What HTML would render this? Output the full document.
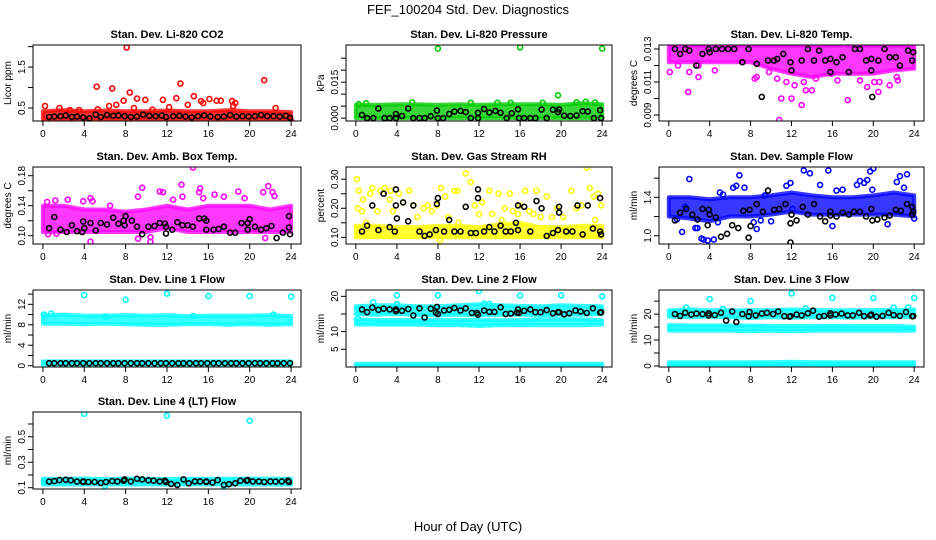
<!DOCTYPE html>
<html><head><meta charset="utf-8">
<style>
html,body{margin:0;padding:0;background:#fff;}
svg{display:block;font-family:"Liberation Sans",Arial,sans-serif;}
</style></head>
<body>
<svg id="chart" width="936" height="540" viewBox="0 0 936 540" xmlns="http://www.w3.org/2000/svg">
<text x="468" y="14" text-anchor="middle" font-size="13">FEF_100204  Std. Dev. Diagnostics</text>
<text x="468" y="531" text-anchor="middle" font-size="13">Hour of Day (UTC)</text>
</svg>
<script>
// ---------- shared ----------
const xTicks = [0,4,8,12,16,20,24];
const bandHours = [0,2,4,6,8,10,12,14,16,18,20,22,24];

// ---------- CO2 ----------
const co2BandLo = [0.22,0.22,0.22,0.22,0.22,0.22,0.22,0.22,0.22,0.22,0.22,0.22,0.22];
const co2BandHi = [0.42,0.45,0.42,0.44,0.42,0.42,0.44,0.42,0.42,0.45,0.42,0.42,0.40];
const co2Hours = [0.2,1.6,2.6,5.2,5.3,6.4,6.7,7.1,7.8,8.1,8.4,8.8,9.1,9.9,11.6,12.2,12.9,13.3,14.0,14.6,15.3,15.5,16.1,16.8,17.2,18.3,18.4,18.6,21.4,22.5,24.0,3.5,10.6];
const co2Vals = [0.55,0.50,0.45,1.02,0.47,0.55,0.98,0.58,0.68,1.98,0.88,0.50,0.73,0.70,0.70,0.52,0.74,1.10,0.58,0.79,0.67,0.62,0.72,0.68,0.68,0.67,0.55,0.62,1.18,0.50,0.18,0.45,0.46];
const co2BlkHours = [0.6,1.1,1.7,2.2,2.8,3.3,3.9,4.5,5.1,5.6,6.2,6.8,7.3,7.9,8.5,9.1,9.7,10.3,10.9,11.5,11.9,12.6,13.2,13.8,14.4,15.0,15.6,16.2,16.9,17.5,18.1,18.7,19.3,19.9,20.5,21.1,21.7,22.3,22.9,23.5,23.9];
const co2BlkVals = [0.28,0.29,0.30,0.32,0.28,0.29,0.27,0.25,0.34,0.28,0.33,0.31,0.32,0.30,0.28,0.29,0.34,0.31,0.30,0.32,0.28,0.30,0.31,0.29,0.27,0.30,0.32,0.29,0.28,0.29,0.33,0.29,0.30,0.29,0.30,0.33,0.30,0.30,0.29,0.31,0.26];

// ---------- Pressure ----------
const presBandLo = [0.0,0.0,0.0,0.0,0.0,0.0,0.0,0.0,0.0,0.0,0.0,0.0,0.0];
const presBandHi = [0.0055,0.0055,0.0058,0.0058,0.0055,0.0058,0.0055,0.0058,0.0058,0.0058,0.0055,0.0062,0.0058];
const presHours = [8.0,16.0,24.0,19.7,22.4,5.5,11.2,0.3,1.0,13.8,15.1,18.2,21.5,23.3];
const presVals = [0.029,0.0295,0.029,0.0095,0.0068,0.0065,0.0064,0.0058,0.0062,0.0064,0.0064,0.0064,0.0066,0.0065];
const presBlkHours = [0.6,1.1,1.7,2.2,2.8,3.3,3.9,3.9,4.5,5.1,5.6,6.2,6.7,7.3,7.9,8.0,8.5,9.1,9.6,10.2,10.7,11.2,11.9,11.9,12.5,13.0,13.6,14.1,14.7,15.2,15.8,15.9,16.4,17.0,17.5,18.1,18.6,19.2,19.7,19.8,20.3,20.9,21.5,22.1,22.6,23.2,23.8,23.9];
const presBlkVals = [0.0013,0.0,0.0,0.0040,0.0,0.0,0.0017,0.0,0.0009,0.0040,0.0,0.0,0.0,0.0008,0.0032,0.0,0.0,0.0017,0.0027,0.0030,0.0025,0.0,0.0022,0.0,0.0038,0.0023,0.0030,0.0022,0.0,0.0020,0.0037,0.0,0.0,0.0,0.0,0.0036,0.0,0.0035,0.0025,0.0036,0.0010,0.0009,0.0011,0.0029,0.0027,0.0,0.0033,0.0];

// ---------- Li-820 Temp ----------
const tmpBandLo = [0.0122,0.0122,0.0122,0.0122,0.0122,0.0118,0.0115,0.0113,0.0115,0.0115,0.0115,0.0117,0.0118];
const tmpBandHi = [0.0132,0.0132,0.0132,0.0132,0.0132,0.0132,0.0132,0.0132,0.0132,0.0132,0.0132,0.0132,0.0132];
const tmpHours = [0.1,0.9,1.9,2.0,2.9,2.9,4.5,8.6,9.8,10.6,10.8,11.0,12.0,12.3,13.0,13.2,13.4,14.0,15.9,16.5,17.5,18.7,19.4,20.1,20.5,20.6,21.6,22.3,22.4,8.4,11.5,14.4];
const tmpVals = [0.0116,0.0120,0.0104,0.0116,0.0120,0.0113,0.0117,0.0113,0.0116,0.0112,0.0087,0.0100,0.0100,0.0108,0.0096,0.0110,0.0105,0.0105,0.0115,0.0111,0.0099,0.0111,0.0107,0.0110,0.0104,0.0110,0.0108,0.0113,0.0111,0.0112,0.0110,0.0112];
const tmpBlkHours = [0.6,1.1,1.6,2.0,2.7,3.3,3.9,4.0,4.6,5.2,5.8,6.4,7.2,7.8,8.6,9.1,9.7,10.3,10.6,11.2,11.9,12.0,13.0,13.6,14.2,14.7,15.3,15.8,15.8,16.4,17.0,17.6,18.2,18.7,19.3,19.8,19.8,19.9,20.5,21.1,21.6,22.2,22.6,23.4,23.8,23.9];
const tmpBlkVals = [0.0130,0.0127,0.0130,0.0129,0.0120,0.0127,0.0130,0.0128,0.0130,0.0130,0.0130,0.0130,0.0122,0.0130,0.0121,0.0101,0.0123,0.0123,0.0124,0.0127,0.0122,0.0117,0.0123,0.0130,0.0123,0.0129,0.0123,0.0124,0.0116,0.0122,0.0125,0.0116,0.0130,0.0130,0.0123,0.0124,0.0117,0.0101,0.0123,0.0130,0.0125,0.0125,0.0120,0.0129,0.0123,0.0128];

// ---------- Amb Box Temp ----------
const ambBandLo = [0.105,0.105,0.105,0.105,0.105,0.105,0.110,0.105,0.105,0.105,0.105,0.105,0.105];
const ambBandHi = [0.140,0.140,0.135,0.135,0.132,0.135,0.140,0.135,0.140,0.140,0.140,0.135,0.140];
const ambHours = [0.4,1.2,2.4,3.9,4.6,4.8,4.6,9.2,9.6,9.2,10.4,10.4,11.3,11.6,12.6,13.4,13.5,14.5,15.1,15.2,15.5,16.6,17.5,18.9,21.3,21.8,22.2,22.4,21.5,0.5,1.3,6.5,19.5];
const ambVals = [0.145,0.147,0.148,0.146,0.150,0.146,0.092,0.152,0.164,0.096,0.092,0.098,0.159,0.158,0.148,0.168,0.152,0.191,0.158,0.163,0.150,0.155,0.152,0.159,0.158,0.166,0.158,0.153,0.097,0.102,0.103,0.140,0.150];
const ambBlkHours = [0.6,1.1,1.7,2.3,2.8,3.3,3.8,3.9,4.0,4.6,5.1,5.6,6.2,6.8,7.3,7.8,7.9,8.0,8.6,9.1,9.6,10.2,10.8,11.3,11.8,11.9,11.9,12.5,13.0,13.5,14.0,14.5,15.1,15.6,15.8,15.8,16.5,17.0,17.5,18.1,18.6,19.2,19.8,19.8,20.0,20.5,21.1,21.6,22.1,22.6,23.2,23.8,23.8,23.9];
const ambBlkVals = [0.110,0.125,0.108,0.105,0.114,0.106,0.105,0.119,0.110,0.117,0.107,0.117,0.115,0.124,0.116,0.120,0.114,0.126,0.120,0.112,0.102,0.112,0.113,0.117,0.116,0.112,0.103,0.108,0.118,0.114,0.114,0.112,0.123,0.123,0.120,0.108,0.108,0.109,0.112,0.104,0.104,0.117,0.117,0.108,0.122,0.112,0.108,0.110,0.113,0.097,0.104,0.126,0.111,0.102];

// ---------- Gas Stream RH ----------
const rhBandLo = [0.100,0.100,0.100,0.100,0.100,0.100,0.100,0.100,0.100,0.100,0.100,0.100,0.100];
const rhBandHi = [0.140,0.140,0.135,0.135,0.140,0.140,0.135,0.145,0.150,0.135,0.135,0.140,0.140];
const rhHours = [0.1,0.3,0.7,0.2,0.6,1.4,1.6,2.1,2.4,2.8,3.3,3.4,3.6,4.2,4.6,5.2,5.6,6.0,6.6,7.0,7.4,7.9,8.3,8.7,9.0,9.6,9.9,10.7,11.2,11.6,12.0,12.3,13.0,13.3,13.9,14.5,15.0,15.3,15.8,16.5,16.9,17.3,17.6,18.0,18.6,19.1,19.6,20.2,21.0,21.5,22.0,22.5,22.8,23.2,23.6,23.9,23.3,16.0,14.2,10.0,8.2,1.0];
const rhVals = [0.30,0.26,0.23,0.20,0.19,0.25,0.27,0.19,0.26,0.27,0.23,0.26,0.19,0.25,0.22,0.26,0.21,0.17,0.20,0.21,0.19,0.21,0.27,0.24,0.17,0.26,0.26,0.32,0.29,0.21,0.18,0.22,0.26,0.18,0.25,0.20,0.25,0.19,0.18,0.26,0.19,0.18,0.26,0.17,0.24,0.17,0.20,0.17,0.26,0.20,0.21,0.34,0.27,0.24,0.25,0.21,0.16,0.21,0.16,0.15,0.09,0.15];
const rhBlkHours = [0.6,1.1,1.6,2.2,2.7,3.3,3.8,3.9,3.9,4.0,4.6,5.1,5.6,6.2,6.7,7.2,7.8,7.9,8.0,8.6,9.1,9.6,10.2,10.7,11.2,11.7,11.9,11.9,12.5,13.0,13.5,14.1,14.6,15.1,15.6,15.8,15.8,16.4,17.0,17.6,18.1,18.6,19.2,19.7,19.8,19.8,20.5,21.1,21.6,22.1,22.6,23.1,23.8,23.8,23.9];
const rhBlkVals = [0.12,0.14,0.21,0.125,0.25,0.135,0.12,0.265,0.21,0.165,0.22,0.155,0.21,0.12,0.105,0.11,0.125,0.215,0.235,0.12,0.16,0.12,0.12,0.205,0.115,0.115,0.265,0.235,0.12,0.135,0.12,0.14,0.12,0.12,0.15,0.21,0.125,0.205,0.12,0.225,0.20,0.105,0.115,0.125,0.205,0.185,0.12,0.12,0.21,0.11,0.21,0.13,0.235,0.12,0.11];

// ---------- Sample Flow ----------
const sfBandLo = [1.20,1.18,1.15,1.20,1.20,1.22,1.25,1.22,1.22,1.22,1.22,1.22,1.20];
const sfBandHi = [1.40,1.40,1.38,1.40,1.40,1.42,1.45,1.42,1.40,1.40,1.42,1.45,1.42];
const sfHours = [1.3,2.0,2.6,2.8,3.2,3.4,3.8,4.4,5.0,5.3,6.3,6.6,6.9,7.4,8.6,9.4,11.5,11.9,13.2,13.8,14.8,15.6,16.0,16.4,17.0,18.4,18.7,19.1,19.4,19.7,20.0,19.9,21.4,22.3,22.6,23.3,23.0,24.0,0.8,10.0,8.3,1.6,12.1,4.8,9.0];
const sfVals = [1.04,1.59,1.08,1.08,0.97,0.96,0.95,0.96,1.45,1.43,1.50,1.52,1.63,1.50,1.07,1.42,1.52,1.55,1.68,1.65,1.53,1.68,1.10,1.47,1.48,1.53,1.57,1.55,1.58,1.67,1.70,1.48,1.12,1.56,1.62,1.64,1.50,1.18,1.17,1.15,1.14,1.30,1.28,1.14,1.16];
const sfBlkHours = [0.6,1.1,1.7,2.3,2.8,3.3,3.9,3.8,4.0,4.6,5.1,5.7,6.2,6.8,7.3,7.9,7.8,8.0,8.6,9.2,9.7,10.3,10.8,11.4,11.9,11.9,12.0,12.5,13.1,13.6,14.2,14.8,15.3,15.8,15.8,16.4,17.0,17.6,18.1,18.7,19.3,19.8,19.9,20.4,21.1,21.6,22.2,22.7,23.3,23.8,23.8,23.9];
const sfBlkVals = [1.16,1.24,1.28,1.22,1.17,1.28,1.27,1.11,1.22,1.19,0.99,1.02,1.11,1.08,1.26,1.27,0.98,1.10,1.33,1.25,1.47,1.27,1.28,1.33,1.13,0.93,1.22,1.16,1.30,1.22,1.33,1.20,1.15,1.25,1.21,1.20,1.24,1.22,1.25,1.25,1.20,1.28,1.16,1.17,1.19,1.21,1.27,1.26,1.33,1.30,1.22,1.25];

// ---------- Line 1 ----------
const l1BandALo = [8.2,8.2,8.1,8.2,8.1,8.0,8.0,8.1,8.1,8.0,8.1,8.0,8.1];
const l1BandAHi = [9.9,10.0,9.8,9.8,9.9,9.8,9.9,9.7,9.8,9.8,9.8,9.9,9.7];
const l1BandBLo = [0.25,0.25,0.25,0.25,0.25,0.25,0.25,0.25,0.25,0.25,0.25,0.25,0.25];
const l1BandBHi = [0.85,0.85,0.85,0.85,0.85,0.85,0.85,0.85,0.85,0.85,0.85,0.85,0.85];
const l1Hours = [4.0,8.0,12.0,16.0,20.0,24.0,0.1,0.8,6.0,14.5,22.3];
const l1Vals = [13.8,12.9,14.1,13.6,13.6,13.5,10.0,10.2,9.6,9.7,10.0];
const l1BlkHours = [0.6,1.1,1.7,2.2,2.8,3.3,3.9,4.5,5.1,5.6,6.2,6.8,7.3,7.9,8.5,9.1,9.6,10.2,10.8,11.4,11.9,12.5,13.1,13.6,14.2,14.8,15.3,15.9,16.5,17.0,17.6,18.2,18.7,19.3,19.9,20.5,21.0,21.6,22.2,22.7,23.3,23.9];
const l1BlkVals = [0.5,0.5,0.5,0.5,0.5,0.5,0.5,0.5,0.5,0.5,0.5,0.5,0.5,0.5,0.5,0.5,0.5,0.5,0.5,0.5,0.5,0.5,0.5,0.5,0.5,0.5,0.5,0.5,0.5,0.5,0.5,0.5,0.5,0.5,0.5,0.5,0.5,0.5,0.5,0.5,0.5,0.5];

// ---------- Line 2 ----------
const l2BandALo = [15.0,14.8,15.0,14.8,14.6,14.8,14.6,14.8,14.8,14.6,14.8,14.8,15.0];
const l2BandAHi = [17.2,17.5,17.5,17.2,17.2,17.5,17.8,17.5,17.3,17.2,17.5,17.3,17.2];
const l2BandBLo = [12.0,12.0,12.0,12.0,11.8,11.8,11.6,11.8,11.8,11.8,11.8,11.8,12.0];
const l2BandBHi = [13.5,13.3,13.3,13.3,13.3,13.3,13.3,13.2,13.3,13.5,13.5,13.5,13.2];
const l2BandCLo = [0.2,0.2,0.2,0.2,0.2,0.2,0.2,0.2,0.2,0.2,0.2,0.2,0.2];
const l2BandCHi = [0.9,0.9,0.9,0.9,0.9,0.9,0.9,0.9,0.9,0.9,0.9,0.9,0.9];
const l2Hours = [4.0,8.0,12.0,16.0,20.0,24.0,0.2,1.7,4.0,12.5,13.0];
const l2Vals = [20.3,20.3,21.5,20.2,20.3,20.0,13.7,18.3,17.8,17.9,17.9];
const l2BlkHours = [0.6,1.1,1.6,2.2,2.7,3.3,3.9,3.9,4.5,5.1,5.6,6.2,6.7,7.3,7.8,7.9,8.0,8.6,9.1,9.6,10.2,10.7,11.3,11.8,11.9,12.5,13.0,13.5,14.1,14.6,15.1,15.7,15.8,15.9,16.4,17.0,17.5,18.0,18.6,19.2,19.7,19.8,20.3,20.8,21.4,21.9,22.5,23.1,23.8,23.9];
const l2BlkVals = [16.3,15.5,16.8,16.2,16.5,16.3,16.3,15.8,15.9,16.4,14.6,16.6,14.0,16.5,15.4,17.0,15.0,16.0,16.2,16.7,16.0,16.6,15.3,15.3,14.8,16.0,15.6,15.6,16.9,15.0,15.1,15.4,16.3,15.3,15.9,16.3,15.5,15.5,16.1,15.2,15.5,15.5,14.9,15.2,16.0,15.7,15.3,16.6,15.4,15.5];

// ---------- Line 3 ----------
const l3BandALo = [19.0,18.8,19.0,18.8,18.5,18.8,18.6,18.8,18.8,18.6,18.8,18.8,19.0];
const l3BandAHi = [21.5,21.8,21.5,21.5,21.5,21.6,21.8,21.6,21.5,21.5,21.6,21.6,21.8];
const l3BandBLo = [13.6,13.6,13.6,13.6,13.4,13.6,13.4,13.6,13.6,13.6,13.6,13.6,13.6];
const l3BandBHi = [15.8,15.6,15.6,15.6,15.6,15.4,15.4,15.4,15.5,15.4,15.4,15.4,15.2];
const l3BandCLo = [0.0,0.0,0.0,0.0,0.0,0.0,0.0,0.0,0.0,0.0,0.0,0.0,0.0];
const l3BandCHi = [1.4,1.4,1.4,1.4,1.4,1.5,1.6,1.5,1.4,1.4,1.4,1.4,1.4];
const l3Hours = [4.0,8.0,12.0,16.0,20.0,24.0,1.7,22.0,23.4,5.3,13.4];
const l3Vals = [25.8,25.0,28.0,26.3,26.2,26.2,22.5,22.5,22.5,22.0,22.2];
const l3BlkHours = [0.6,1.1,1.6,2.2,2.7,3.3,3.9,3.9,4.5,5.1,5.6,6.2,6.6,7.2,7.8,7.9,8.5,9.1,9.6,10.2,10.7,11.3,11.8,11.9,12.5,13.0,13.6,14.1,14.7,15.2,15.8,15.8,16.3,16.9,17.5,18.0,18.6,19.1,19.7,19.8,20.3,20.9,21.5,22.0,22.6,23.2,23.8,23.9];
const l3BlkVals = [20.0,19.3,20.5,19.8,20.2,20.0,20.3,19.5,19.6,20.5,17.5,21.0,17.0,20.0,19.2,20.8,19.5,20.2,20.5,20.0,21.0,19.2,19.0,19.2,19.8,19.5,20.3,21.3,19.0,19.3,20.3,19.5,19.8,20.2,19.5,19.5,20.5,19.2,19.5,19.8,19.0,19.3,20.5,19.6,19.3,20.8,19.2,19.2];

// ---------- Line 4 ----------
const l4BandLo = [0.125,0.125,0.125,0.125,0.125,0.125,0.125,0.125,0.125,0.125,0.125,0.125,0.125];
const l4BandHi = [0.170,0.170,0.172,0.168,0.172,0.170,0.168,0.170,0.170,0.170,0.172,0.170,0.170];
const l4Hours = [4.0,12.0,20.0,6.0,17.5,0.1];
const l4Vals = [0.68,0.665,0.625,0.115,0.112,0.15];
const l4BlkHours = [0.6,1.1,1.6,2.2,2.7,3.3,3.9,3.9,4.4,5.0,5.6,6.1,6.7,7.2,7.8,7.9,8.5,9.1,9.6,10.2,10.7,11.3,11.8,11.9,12.4,13.0,13.6,14.1,14.7,15.2,15.8,15.8,16.4,16.9,17.5,18.0,18.6,19.1,19.7,19.8,20.3,20.9,21.4,22.0,22.5,23.1,23.7,23.8];
const l4BlkVals = [0.148,0.152,0.160,0.162,0.158,0.148,0.150,0.145,0.145,0.145,0.138,0.145,0.152,0.150,0.155,0.165,0.150,0.170,0.165,0.158,0.155,0.150,0.155,0.145,0.130,0.122,0.165,0.135,0.150,0.150,0.150,0.145,0.140,0.160,0.122,0.128,0.135,0.155,0.155,0.160,0.150,0.150,0.145,0.150,0.148,0.150,0.155,0.145];

// ---------- y-axis tick data ----------
const co2Ticks=[0.5,1.0,1.5,2.0], co2Labels=["0.5","","1.5",""];
const presTicks=[0,0.005,0.010,0.015,0.020,0.025], presLabels=["0.000","","","0.015","",""];
const tmpTicks=[0.009,0.010,0.011,0.012,0.013], tmpLabels=["0.009","","0.011","","0.013"];
const ambTicks=[0.10,0.12,0.14,0.16,0.18], ambLabels=["0.10","","0.14","","0.18"];
const rhTicks=[0.10,0.15,0.20,0.25,0.30], rhLabels=["0.10","","0.20","","0.30"];
const sfTicks=[1.0,1.2,1.4,1.6], sfLabels=["1.0","","1.4",""];
const l1Ticks=[0,2,4,6,8,10,12,14], l1Labels=["0","","4","","8","","12",""];
const l2Ticks=[5,10,15,20], l2Labels=["5","10","","20"];
const l3Ticks=[0,5,10,15,20,25], l3Labels=["0","","10","","20",""];
const l4Ticks=[0.1,0.2,0.3,0.4,0.5,0.6], l4Labels=["0.1","","0.3","","0.5",""];

const NS="http://www.w3.org/2000/svg";
const svg=document.getElementById('chart');
function mk(tag,attrs,parent){const e=document.createElementNS(NS,tag);for(const k in attrs)e.setAttribute(k,attrs[k]);(parent||svg).appendChild(e);return e;}

const cols=[[33,301],[346,612],[659,924]];
const rows=[[45,121],[167,244],[290,367],[412,489]];

const panels=[
 {name:'co2',title:'Stan. Dev. Li-820 CO2',ylab:'Licor ppm',c:0,r:0,dom:[0.183,2.04],color:'#ff0000',bands:[[co2BandLo,co2BandHi]],h:co2Hours,v:co2Vals,bh:co2BlkHours,bv:co2BlkVals,ticks:co2Ticks,labels:co2Labels},
 {name:'pressure',title:'Stan. Dev. Li-820 Pressure',ylab:'kPa',c:1,r:0,dom:[-0.0012,0.0305],color:'#00cc00',bands:[[presBandLo,presBandHi]],h:presHours,v:presVals,bh:presBlkHours,bv:presBlkVals,ticks:presTicks,labels:presLabels},
 {name:'li820-temp',title:'Stan. Dev. Li-820 Temp.',ylab:'degrees C',c:2,r:0,dom:[0.00864,0.01324],color:'#ff00ff',bands:[[tmpBandLo,tmpBandHi]],h:tmpHours,v:tmpVals,bh:tmpBlkHours,bv:tmpBlkVals,ticks:tmpTicks,labels:tmpLabels},
 {name:'amb-box-temp',title:'Stan. Dev. Amb. Box Temp.',ylab:'degrees C',c:0,r:1,dom:[0.089,0.1916],color:'#ff00ff',bands:[[ambBandLo,ambBandHi]],h:ambHours,v:ambVals,bh:ambBlkHours,bv:ambBlkVals,ticks:ambTicks,labels:ambLabels},
 {name:'gas-stream-rh',title:'Stan. Dev. Gas Stream RH',ylab:'percent',c:1,r:1,dom:[0.077,0.342],color:'#ffff00',bands:[[rhBandLo,rhBandHi]],h:rhHours,v:rhVals,bh:rhBlkHours,bv:rhBlkVals,ticks:rhTicks,labels:rhLabels},
 {name:'sample-flow',title:'Stan. Dev. Sample Flow',ylab:'ml/min',c:2,r:1,dom:[0.914,1.716],color:'#0000ff',bands:[[sfBandLo,sfBandHi]],h:sfHours,v:sfVals,bh:sfBlkHours,bv:sfBlkVals,ticks:sfTicks,labels:sfLabels},
 {name:'line1-flow',title:'Stan. Dev. Line 1 Flow',ylab:'ml/min',c:0,r:2,dom:[-0.25,14.8],color:'#00ffff',bands:[[l1BandALo,l1BandAHi],[l1BandBLo,l1BandBHi]],h:l1Hours,v:l1Vals,bh:l1BlkHours,bv:l1BlkVals,ticks:l1Ticks,labels:l1Labels},
 {name:'line2-flow',title:'Stan. Dev. Line 2 Flow',ylab:'ml/min',c:1,r:2,dom:[-0.03,21.8],color:'#00ffff',bands:[[l2BandALo,l2BandAHi],[l2BandBLo,l2BandBHi],[l2BandCLo,l2BandCHi]],h:l2Hours,v:l2Vals,bh:l2BlkHours,bv:l2BlkVals,ticks:l2Ticks,labels:l2Labels},
 {name:'line3-flow',title:'Stan. Dev. Line 3 Flow',ylab:'ml/min',c:2,r:2,dom:[-0.4,29.3],color:'#00ffff',bands:[[l3BandALo,l3BandAHi],[l3BandBLo,l3BandBHi],[l3BandCLo,l3BandCHi]],h:l3Hours,v:l3Vals,bh:l3BlkHours,bv:l3BlkVals,ticks:l3Ticks,labels:l3Labels},
 {name:'line4-flow',title:'Stan. Dev. Line 4 (LT) Flow',ylab:'ml/min',c:0,r:3,dom:[0.09,0.694],color:'#00ffff',bands:[[l4BandLo,l4BandHi]],h:l4Hours,v:l4Vals,bh:l4BlkHours,bv:l4BlkVals,ticks:l4Ticks,labels:l4Labels}
];

panels.forEach(p=>{
  const L=cols[p.c][0],R=cols[p.c][1],T=rows[p.r][0],B=rows[p.r][1];
  const x0=L+(R-L)*0.037,x1=R-(R-L)*0.037;
  const xs=h=>x0+(x1-x0)*h/24;
  const ys=v=>B-(B-T)*(v-p.dom[0])/(p.dom[1]-p.dom[0]);
  const g=mk('g',{});
  
  
  const cp=mk('clipPath',{id:'cp-'+p.name},g);
  mk('rect',{x:L,y:T,width:R-L,height:B-T},cp);
  const data=mk('g',{'clip-path':'url(#cp-'+p.name+')'},g);
  p.bands.forEach((b,bi)=>{
    let pts=[];
    bandHours.forEach((h,i)=>pts.push(xs(h).toFixed(1)+','+ys(b[1][i]).toFixed(1)));
    for(let i=bandHours.length-1;i>=0;i--)pts.push(xs(bandHours[i]).toFixed(1)+','+ys(b[0][i]).toFixed(1));
    const pg=mk('polygon',{points:pts.join(' '),fill:p.color,'fill-opacity':0.78,stroke:p.color,'stroke-opacity':0.78,'stroke-width':4,'stroke-linejoin':'round'},data);
    
    
  });
  p.h.forEach((h,i)=>{
    const c=mk('circle',{cx:xs(h).toFixed(1),cy:ys(p.v[i]).toFixed(1),r:2.5,fill:'none',stroke:p.color,'stroke-width':1.6},data);
    
    
  });
  p.bh.forEach((h,i)=>{
    const c=mk('circle',{cx:xs(h).toFixed(1),cy:ys(p.bv[i]).toFixed(1),r:2.5,fill:'none',stroke:'#000','stroke-width':1.6},data);
    
    
  });
  const box=mk('rect',{x:L,y:T,width:R-L,height:B-T,fill:'none',stroke:'#000','stroke-width':1},g);
  
  
  const tt=mk('text',{x:(L+R)/2,y:T-7,'text-anchor':'middle','font-size':11,'font-weight':'bold'},g);
  tt.textContent=p.title;
  
  
  mk('line',{x1:xs(0),x2:xs(24),y1:B,y2:B,stroke:'#000'},g);
  xTicks.forEach(t=>{
    mk('line',{x1:xs(t),x2:xs(t),y1:B,y2:B+5,stroke:'#000'},g);
    const tx=mk('text',{x:xs(t),y:B+16,'text-anchor':'middle','font-size':10},g);
    tx.textContent=t;
    
    
  });
  p.ticks.forEach((t,i)=>{
    const y=ys(t);
    mk('line',{x1:L-5,x2:L,y1:y,y2:y,stroke:'#000'},g);
    if(p.labels[i]){
      const tx=mk('text',{x:L-8,y:y,'text-anchor':'middle','font-size':10,transform:'rotate(-90 '+(L-8)+' '+y+')'},g);
      tx.textContent=p.labels[i];
      
      
    }
  });
  const yl=mk('text',{x:L-22,y:(T+B)/2,'text-anchor':'middle','font-size':10,transform:'rotate(-90 '+(L-22)+' '+((T+B)/2)+')'},g);
  yl.textContent=p.ylab;
  
  
});
</script>
</body></html>
